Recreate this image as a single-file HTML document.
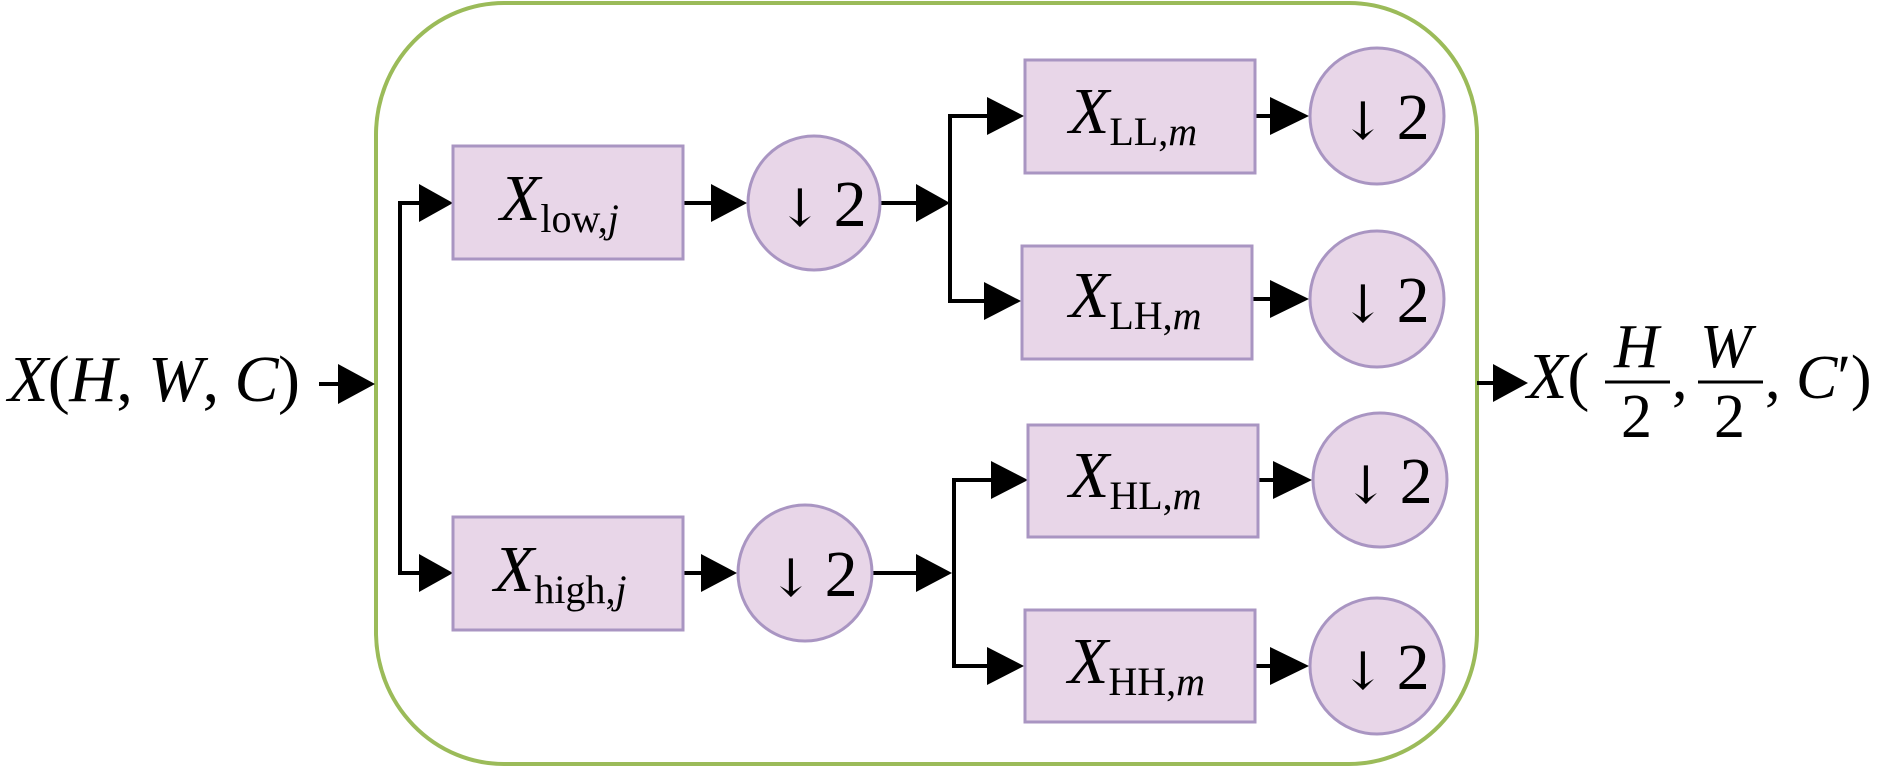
<!DOCTYPE html>
<html><head><meta charset="utf-8"><style>
html,body{margin:0;padding:0;background:#fff;}
svg{display:block;}
text{font-family:"Liberation Serif",serif;fill:#000;}
.i{font-style:italic;}
.ar{font-family:"DejaVu Serif",serif;}
</style></head><body>
<svg width="1890" height="767" viewBox="0 0 1890 767" xmlns="http://www.w3.org/2000/svg">
<rect x="376" y="3" width="1101" height="761" rx="128" ry="132" fill="none" stroke="#9bbb59" stroke-width="4"/>
<g stroke="#000" stroke-width="4" fill="none">
<line x1="319" y1="384" x2="345" y2="384"/>
<polyline points="426,203 400,203 400,573 426,573"/>
<line x1="683" y1="203" x2="715" y2="203"/>
<line x1="683" y1="573" x2="705" y2="573"/>
<line x1="880" y1="203" x2="920" y2="203"/>
<line x1="872" y1="573" x2="920" y2="573"/>
<polyline points="993,116 950,116 950,301 990,301"/>
<polyline points="997,480 954,480 954,666 993,666"/>
<line x1="1255" y1="116" x2="1275" y2="116"/>
<line x1="1252" y1="299" x2="1275" y2="299"/>
<line x1="1258" y1="480" x2="1278" y2="480"/>
<line x1="1255" y1="666" x2="1275" y2="666"/>
<line x1="1477" y1="383" x2="1498" y2="383"/>
</g>
<g fill="#000">
<polygon points="338,364 375,384 338,404"/>
<polygon points="419,184 453,203 419,222"/>
<polygon points="419,554 453,573 419,592"/>
<polygon points="711,184 747,203 711,222"/>
<polygon points="701,554 737,573 701,592"/>
<polygon points="916,184 950,203 916,222"/>
<polygon points="916,554 952,573 916,592"/>
<polygon points="987,97 1024,116 987,135"/>
<polygon points="984,282 1021,301 984,320"/>
<polygon points="991,461 1028,480 991,499"/>
<polygon points="987,647 1024,666 987,685"/>
<polygon points="1270,97 1309,116 1270,135"/>
<polygon points="1270,280 1309,299 1270,318"/>
<polygon points="1273,461 1312,480 1273,499"/>
<polygon points="1270,647 1309,666 1270,685"/>
<polygon points="1493,364 1528,383 1493,402"/>
</g>
<g fill="#e8d6e8" stroke="#a995c2" stroke-width="3">
<rect x="453" y="146" width="230" height="113"/>
<rect x="453" y="517" width="230" height="113"/>
<rect x="1025" y="60" width="230" height="113"/>
<rect x="1022" y="246" width="230" height="113"/>
<rect x="1028" y="425" width="230" height="112"/>
<rect x="1025" y="610" width="230" height="112"/>
<ellipse cx="814" cy="203" rx="66" ry="67"/>
<ellipse cx="805" cy="573" rx="67" ry="68"/>
<ellipse cx="1377" cy="116" rx="67" ry="68"/>
<ellipse cx="1377" cy="299" rx="67" ry="68"/>
<ellipse cx="1380" cy="480" rx="67" ry="67"/>
<ellipse cx="1377" cy="666" rx="67" ry="68"/>
</g>
<g font-size="66">
<text x="778" y="226"><tspan class="ar" font-size="52">↓</tspan><tspan dx="12">2</tspan></text>
<text x="769" y="596"><tspan class="ar" font-size="52">↓</tspan><tspan dx="12">2</tspan></text>
<text x="1341" y="139"><tspan class="ar" font-size="52">↓</tspan><tspan dx="12">2</tspan></text>
<text x="1341" y="322"><tspan class="ar" font-size="52">↓</tspan><tspan dx="12">2</tspan></text>
<text x="1344" y="503"><tspan class="ar" font-size="52">↓</tspan><tspan dx="12">2</tspan></text>
<text x="1341" y="689"><tspan class="ar" font-size="52">↓</tspan><tspan dx="12">2</tspan></text>
</g>
<g font-size="66">
<text x="500" y="220"><tspan class="i">X</tspan><tspan font-size="40" dy="12">low,</tspan><tspan font-size="40" class="i">j</tspan></text>
<text x="494" y="591"><tspan class="i">X</tspan><tspan font-size="40" dy="12">high,</tspan><tspan font-size="40" class="i">j</tspan></text>
<text x="1069" y="133"><tspan class="i">X</tspan><tspan font-size="40" dy="12">LL,</tspan><tspan font-size="40" class="i">m</tspan></text>
<text x="1069" y="317"><tspan class="i">X</tspan><tspan font-size="40" dy="12">LH,</tspan><tspan font-size="40" class="i">m</tspan></text>
<text x="1069" y="497"><tspan class="i">X</tspan><tspan font-size="40" dy="12">HL,</tspan><tspan font-size="40" class="i">m</tspan></text>
<text x="1068" y="683"><tspan class="i">X</tspan><tspan font-size="40" dy="12">HH,</tspan><tspan font-size="40" class="i">m</tspan></text>
</g>
<text x="8" y="401" font-size="66" textLength="292" lengthAdjust="spacing"><tspan class="i">X</tspan>(<tspan class="i">H</tspan>, <tspan class="i">W</tspan>, <tspan class="i">C</tspan>)</text>
<text x="1527" y="398" font-size="66"><tspan class="i">X</tspan>(</text>
<line x1="1605" y1="382" x2="1670" y2="382" stroke="#000" stroke-width="3"/>
<line x1="1698" y1="382" x2="1763" y2="382" stroke="#000" stroke-width="3"/>
<text x="1614" y="367" font-size="62" class="i">H</text>
<text x="1621" y="437" font-size="62">2</text>
<text x="1672" y="398" font-size="62">,</text>
<text x="1700" y="367" font-size="62" class="i">W</text>
<text x="1714" y="437" font-size="62">2</text>
<text x="1765" y="398" font-size="62">, <tspan class="i">C</tspan>′)</text>
</svg>
</body></html>
